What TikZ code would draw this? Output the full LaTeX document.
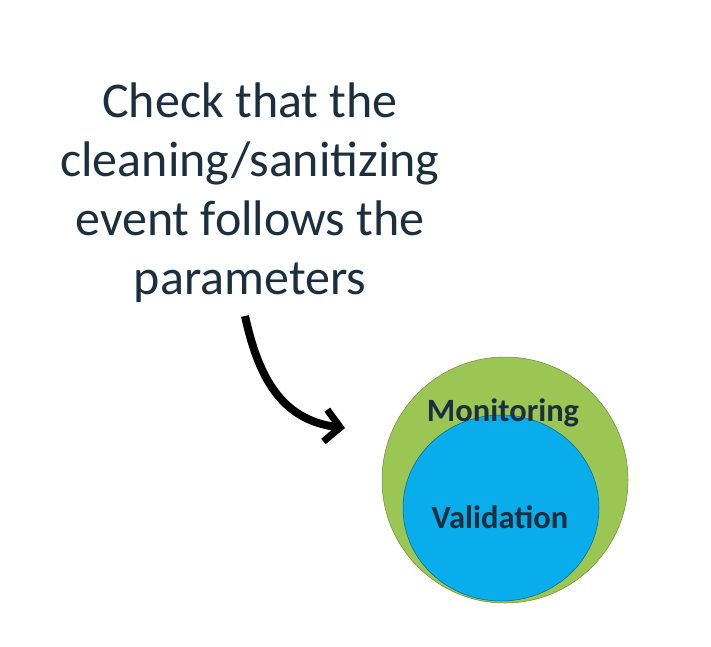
\documentclass[tikz,border=0pt]{standalone}
\usepackage{fontspec}
\setmainfont{Carlito}
\usetikzlibrary{arrows.meta,shapes.geometric}
\definecolor{navy}{HTML}{1B2F3E}
\definecolor{mgreen}{HTML}{9CC653}
\definecolor{vblue}{HTML}{0AADEB}
\begin{document}
\begin{tikzpicture}[x=1pt,y=-1pt,
  big/.style={font=\fontsize{50}{59}\selectfont, text=navy, align=center},
  lbl/.style={font=\fontsize{32.5}{36}\selectfont\bfseries, text=navy}]
\useasboundingbox (0,0) rectangle (711,646);
\node[big] (txt) at (250,193) {Check that the\\cleaning/sanitizing\\event follows the\\parameters};
\node[circle, fill=mgreen, draw=mgreen!70!black, line width=0.5pt, minimum size=246pt, inner sep=0pt] (mon) at (505,480) {};
\node[ellipse, fill=vblue, draw=vblue!60!black, line width=0.5pt, minimum width=196pt, minimum height=186pt, inner sep=0pt] (val) at (501,508) {};
\node[lbl] (monl) at (503,413) {Monitoring};
\node[lbl] (vall) at (500,517) {Validation};
\coordinate (a0) at (245,316);
\coordinate (a1) at (345,428);
\draw[line width=8pt, -{Straight Barb[length=15pt,width=32pt,line width=7pt]}] (a0) .. controls (258,375) and (280,420) .. (a1);
\end{tikzpicture}
\end{document}
